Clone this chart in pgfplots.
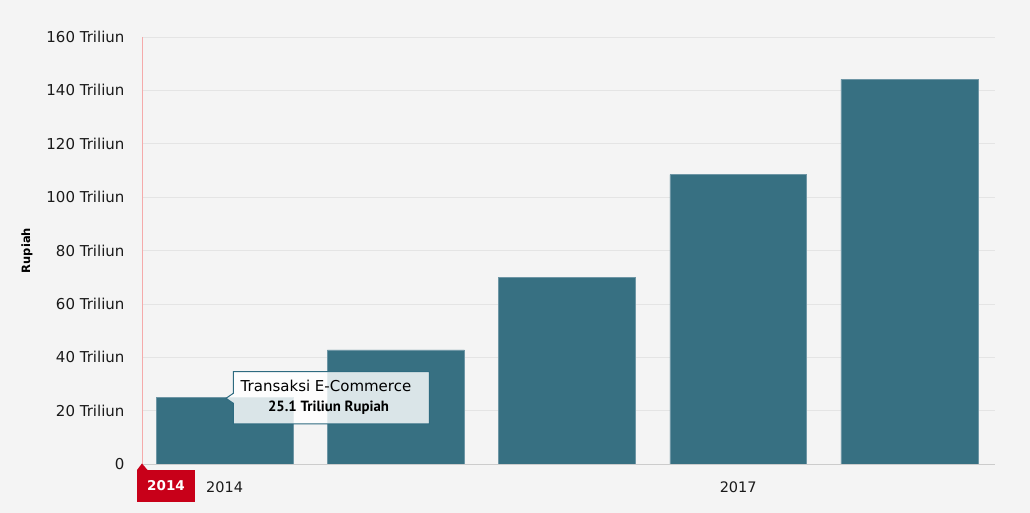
\documentclass[border=0pt]{standalone}
\usepackage{pgfplots}
\pgfplotsset{compat=1.18}
\usepackage{fontspec}
\setmainfont{DejaVu Sans}
\newfontfamily\ptsans{PT Sans}
\definecolor{bg}{HTML}{F4F4F4}
\definecolor{barc}{RGB}{55,112,130}
\definecolor{barb}{RGB}{110,150,165}
\definecolor{gridgray}{HTML}{E4E4E4}
\definecolor{axisgray}{HTML}{CCCCCC}
\definecolor{redline}{RGB}{245,170,170}
\definecolor{markred}{RGB}{200,0,25}
\definecolor{tipteal}{RGB}{46,107,128}
\definecolor{txt}{HTML}{1A1A1A}
\begin{document}
\begin{tikzpicture}[x=1pt,y=1pt]
\path[use as bounding box, fill=bg] (0,0) rectangle (1030,513);
\begin{axis}[
  at={(143pt,49pt)}, anchor=south west,
  scale only axis, width=852pt, height=427pt,
  xmin=-0.477, xmax=4.5, ymin=0, ymax=160,
  axis lines*=left, axis line style={-},
  x axis line style={draw=axisgray, line width=0.8pt},
  y axis line style={draw=none},
  ybar, bar width=0.8,
  xtick={0,3}, xticklabels={2014,2017},
  ytick={0,20,40,60,80,100,120,140,160},
  yticklabels={0,20 Triliun,40 Triliun,60 Triliun,80 Triliun,100 Triliun,120 Triliun,140 Triliun,160 Triliun},
  major tick length=0pt,
  ymajorgrids, grid style={draw=gridgray, line width=0.7pt},
  tick label style={text=txt},
  yticklabel style={font=\fontsize{15}{17}\selectfont, xshift=-15pt},
  xticklabel style={font=\fontsize{14.5}{17}\selectfont, yshift=-14pt},
  ylabel={Rupiah},
  every axis y label/.style={at={(axis description cs:-0.1362,0.5)}, rotate=90, anchor=center, font=\fontsize{11.5}{13}\selectfont\bfseries, text=black},
]
\addplot[fill=barc, draw=barb, line width=0.5pt] coordinates {(0,25.1) (1,42.8) (2,69.8) (3,108.4) (4,144.1)};
\end{axis}
\draw[redline, line width=0.8pt] (142.5,49) -- (142.5,476);
% red marker
\fill[markred] (137,11.3) rectangle (195,43);
\fill[markred] (137,43) -- (142,49.5) -- (147.5,43) -- cycle;
\node[text=white, font=\fontsize{13.5}{15}\selectfont\bfseries] at (166,27) {2014};
% tooltip
\path[fill=white, fill opacity=0.82, draw=tipteal, draw opacity=1, line width=1pt]
  (233.3,141.3) -- (429.3,141.3) -- (429.3,89) -- (233.3,89) -- (233.3,109.7) -- (226,114.7) -- (233.3,119.7) -- cycle;
\node[text=black, font=\fontsize{15}{17}\selectfont] at (326,127) {Transaksi E-Commerce};
\node[text=black, font=\ptsans\fontsize{14.8}{16}\selectfont\bfseries] at (328.5,105.7) {25.1 Triliun Rupiah};
\end{tikzpicture}
\end{document}
